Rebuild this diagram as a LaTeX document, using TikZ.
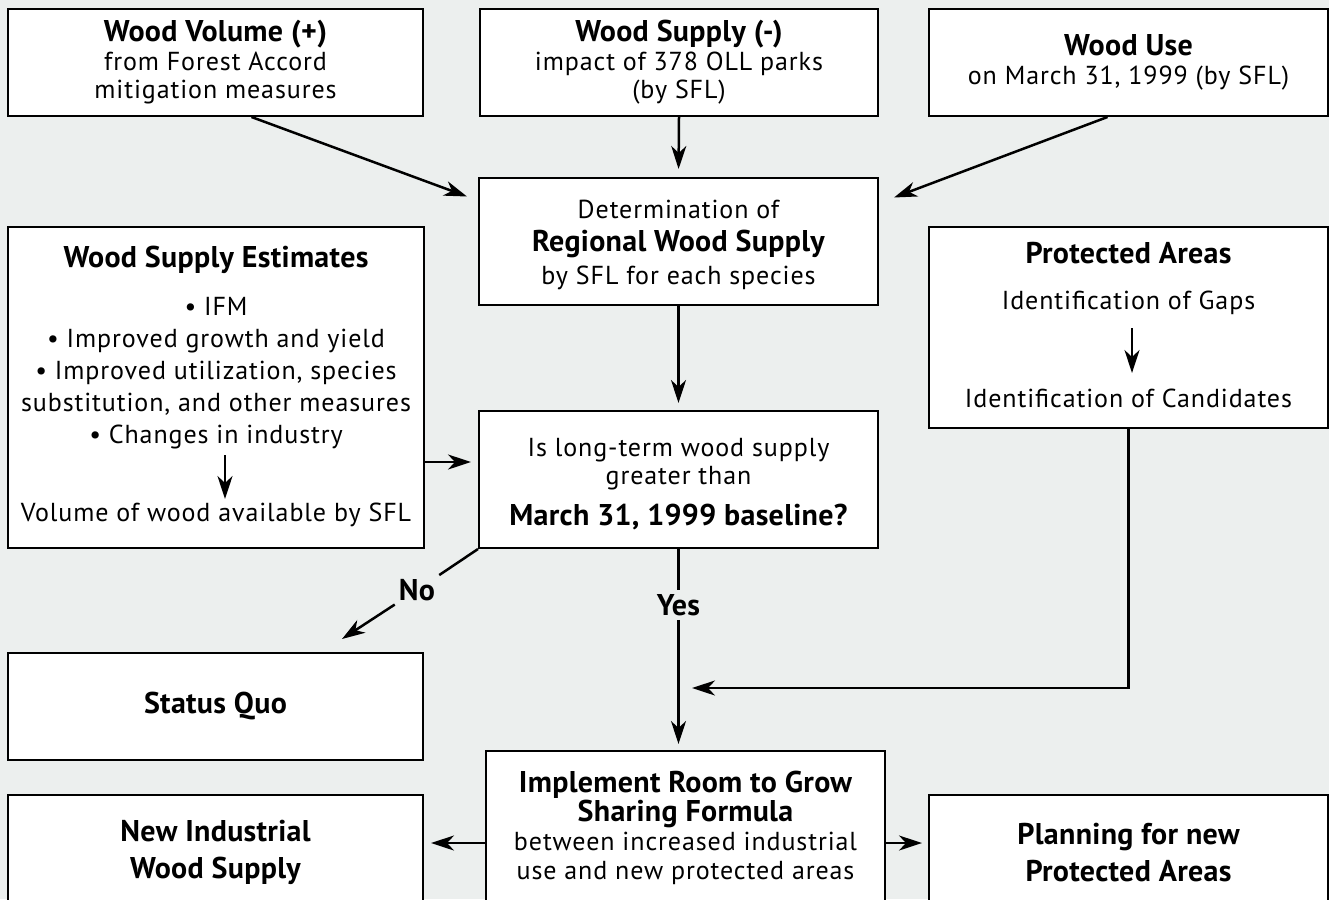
\documentclass[tikz,border=0pt]{standalone}
\usepackage{fontspec}
\setmainfont{PT Sans}[LetterSpace=3.5, BoldFeatures={LetterSpace=1}]
\usetikzlibrary{arrows.meta,calc}
\definecolor{bg}{HTML}{ECEFEE}
\newcommand{\rg}{\fontsize{26}{28.5}\selectfont}
\newcommand{\bd}{\fontsize{30}{28.5}\selectfont\bfseries}
\tikzset{
  box/.style={draw=black, fill=white, line width=2pt, align=center, inner sep=0pt, font=\rg},
  lbl/.style={inner sep=0pt, align=center, font=\rg},
  arr/.style={line width=2.5pt, -{Stealth[length=23pt,width=15pt,inset=7pt]}},
  ln/.style={line width=2.5pt},
}
\begin{document}
\begin{tikzpicture}[x=1pt,y=-1pt]
\useasboundingbox (0,0) rectangle (1329,899);
\clip (0,0) rectangle (1329,899);
\fill[bg] (0,0) rectangle (1329,899);

% top row
\node[box, minimum width=415pt, minimum height=107pt] (vol) at (215.5,62.5)
  {{\bd Wood Volume (+)}\\from Forest Accord\\mitigation measures};
\node[box, minimum width=398pt, minimum height=107pt] (sup) at (679,62.5)
  {{\bd Wood Supply (-)}\\impact of 378 OLL parks\\(by SFL)};
\node[box, minimum width=399pt, minimum height=107pt] (use) at (1128.5,62.5)
  {{\bd Wood Use}\\on March 31, 1999 (by SFL)};

% determination
\node[box, minimum width=399pt, minimum height=127pt] (det) at (678.5,241.5)
  {\rule{0pt}{26pt}Determination of\\[4pt]{\bd Regional Wood Supply}\\[5pt]by SFL for each species};

% wood supply estimates
\node[box, minimum width=416pt, minimum height=321pt] (wse) at (216,387.5) {};
\node[lbl, font=\bd] (wset) at (216,260) {Wood Supply Estimates};
\node[lbl, font=\fontsize{26}{32}\selectfont] (bul) at (216,373)
  {\textbullet\ IFM\\\textbullet\ Improved growth and yield\\\textbullet\ Improved utilization, species\\substitution, and other measures\\\textbullet\ Changes in industry};
\node[lbl] (vwood) at (216,515) {Volume of wood available by SFL};
\coordinate (w1) at (225,455);
\coordinate (w2) at (225,499);
\draw[arr] (w1) -- (w2);

% protected areas
\node[box, minimum width=399pt, minimum height=201pt] (prot) at (1128.5,327.5) {};
\node[lbl, font=\bd] (prott) at (1128.5,253) {Protected Areas};
\node[lbl] (gaps) at (1128.5,303) {Identification of Gaps};
\node[lbl] (cand) at (1128.5,398) {Identification of Candidates};
\coordinate (p1) at (1132,328);
\coordinate (p2) at (1132,373);
\draw[arr] (p1) -- (p2);

% question
\node[box, minimum width=399pt, minimum height=137pt] (q) at (678.5,479.5)
  {\rule{0pt}{27pt}Is long-term wood supply\\greater than\\[12pt]{\bd March 31, 1999 baseline?}};

% status quo
\node[box, minimum width=415pt, minimum height=107pt, font=\bd] (sq) at (215.5,706.5) {Status Quo};

% bottom row
\node[box, minimum width=399pt, minimum height=154pt] (impl) at (685.5,828)
  {{\bd Implement Room to Grow}\\{\bd Sharing Formula}\\[1pt]between increased industrial\\use and new protected areas};
\node[box, minimum width=415pt, minimum height=115pt, font=\fontsize{30}{37}\selectfont\bfseries] (ind) at (215.5,852.5)
  {New Industrial\\Wood Supply};
\node[box, minimum width=399pt, minimum height=115pt, font=\fontsize{30}{37}\selectfont\bfseries] (plan) at (1128.5,852.5)
  {Planning for new\\Protected Areas};

% connectors
\draw[arr] ($(vol.south)+(36,0)$) -- ($(det.west)+(-11,-45)$);
\draw[arr] ($(use.south)+(-21,0)$) -- ($(det.east)+(15,-44)$);
\draw[arr, shorten >=8pt] (sup.south) -- (det.north);
\draw[arr, shorten >=7pt] (det.south) -- (q.north);
\draw[arr, shorten >=7pt] (wse.east |- 0,462) -- (q.west |- 0,462);

\node[font=\bd, fill=bg, inner sep=4pt] (no) at (417,590) {No};
\draw[ln] (q.south west) -- (no);
\draw[arr] (no) -- (342,639);

\node[font=\bd, fill=bg, inner sep=4pt] (yes) at (678.5,605) {Yes};
\draw[ln] (q.south) -- (yes);
\draw[arr, shorten >=6pt] (yes) -- (yes |- impl.north);

\coordinate (join) at (692,688);
\draw[arr] (prot.south) |- (join);

\draw[arr, shorten >=7pt] (impl.west |- 0,843) -- (ind.east |- 0,843);
\draw[arr, shorten >=6pt] (impl.east |- 0,843) -- (plan.west |- 0,843);
\end{tikzpicture}
\end{document}
